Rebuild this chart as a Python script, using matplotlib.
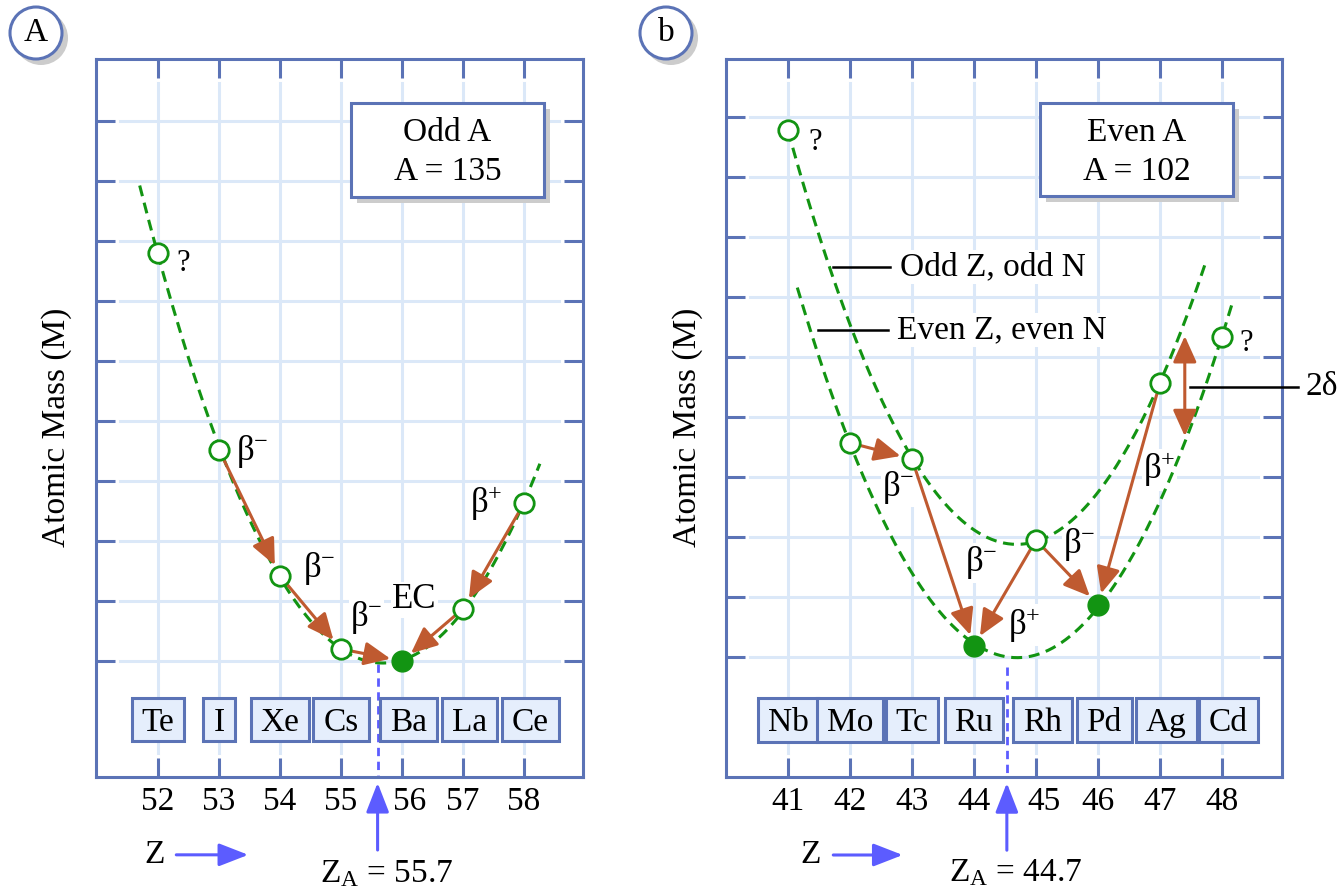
import numpy as np
import matplotlib.pyplot as plt
import matplotlib.transforms as mtransforms
from matplotlib.patches import Rectangle, Ellipse

plt.rcParams['font.family'] = ['Liberation Serif', 'DejaVu Serif']
plt.rcParams['mathtext.fontset'] = 'custom'
plt.rcParams['mathtext.rm'] = 'Liberation Serif'
plt.rcParams['mathtext.it'] = 'Liberation Serif:italic'
plt.rcParams['font.size'] = 24

# ---------------- panel A : odd A = 135 ----------------
odd_Z = [52, 53, 54, 55, 56, 57, 58]
odd_sym = ['Te', 'I', 'Xe', 'Cs', 'Ba', 'La', 'Ce']
odd_M = [6.80, 3.52, 1.42, 0.20, 0.00, 0.87, 2.63]
odd_stable = [56]
odd_range = [51.70, 58.26]
odd_decays = [(53, 54), (54, 55), (55, 56), (57, 56), (58, 57)]
odd_labels = [('β$^{-}$', 53.28, 3.50), ('β$^{-}$', 54.38, 1.55),
              ('β$^{-}$', 55.15, 0.72), ('EC', 55.84, 1.02), ('β$^{+}$', 57.11, 2.62)]
odd_ZA = 55.6
odd_ZA_text = 'Z$_\\mathrm{A}$ = 55.7'

# ---------------- panel b : even A = 102 ----------------
even_Z = [41, 42, 43, 44, 45, 46, 47, 48]
even_sym = ['Nb', 'Mo', 'Tc', 'Ru', 'Rh', 'Pd', 'Ag', 'Cd']
even_M = [8.78, 3.57, 3.30, 0.18, 1.95, 0.87, 4.57, 5.33]
even_stable = [44, 46]
oo_range = [41.00, 47.73]   # odd Z, odd N branch
ee_range = [41.15, 48.16]   # even Z, even N branch
even_decays = [(42, 43), (43, 44), (45, 44), (45, 46), (47, 46)]
even_labels = [('β$^{-}$', 42.52, 2.83), ('β$^{-}$', 43.85, 1.57),
               ('β$^{+}$', 44.55, 0.53), ('β$^{-}$', 45.44, 1.87), ('β$^{+}$', 46.73, 3.12)]
even_ZA = 44.53
even_ZA_text = 'Z$_\\mathrm{A}$ = 44.7'
delta_Z = 47.4
delta_M = [3.68, 5.35]

frame_c = '#5b73b6'
grid_c = '#dbe8f8'
green = '#129412'
arrow_c = '#bf5a30'
blue = '#5c5cff'
box_fill = '#e5eefc'

W, H = 1344, 892
fig = plt.figure(figsize=(W / 100, H / 100), dpi=100)


def make_axes(left, right, top, bottom, xlim, ylim, zticks, za):
    ax = fig.add_axes([left / W, 1 - bottom / H, (right - left) / W, (bottom - top) / H])
    ax.set_xlim(xlim)
    ax.set_ylim(ylim)
    ax.set_xticks(zticks)
    ax.set_yticks(range(10))
    ax.tick_params(direction='in', length=13.5, width=2.2, color=frame_c, top=True, right=True,
                   labelleft=False, labelsize=24, pad=7)
    for s in ax.spines.values():
        s.set_color(frame_c)
        s.set_linewidth(2.2)
    # nudge the tick label just right of Z_A away from the arrow
    for z, lab in zip(zticks, ax.get_xticklabels()):
        if za < z < za + 1:
            lab.set_transform(lab.get_transform() +
                              mtransforms.ScaledTranslation(8 / 100, 0, fig.dpi_scale_trans))
    fx, fy = 24 / (right - left), 24 / (bottom - top)
    for z in zticks:
        ax.plot([z, z], [fy, 1 - fy], transform=ax.get_xaxis_transform(), color=grid_c, lw=2.2, zorder=0.5)
    for m in range(10):
        ax.plot([fx, 1 - fx], [m, m], transform=ax.get_yaxis_transform(), color=grid_c, lw=2.2, zorder=0.5)
    return ax


ax1 = make_axes(96, 583, 59, 777, (50.984, 58.967), (-1.933, 10.033), odd_Z, odd_ZA)
ax2 = make_axes(726, 1282, 59, 777, (40.0, 48.968), (-2.0, 9.967), even_Z, even_ZA)


def curve(ax, zs, ms, zrange):
    c = np.polyfit(zs, ms, 2)
    zz = np.linspace(zrange[0], zrange[1], 200)
    ax.plot(zz, np.polyval(c, zz), color=green, lw=2.2, ls=(0, (3.6, 2.2)), zorder=3)


def markers(ax, zs, ms, stable):
    for z, m in zip(zs, ms):
        if z in stable:
            ax.plot(z, m, 'o', ms=15, color=green, zorder=5)
        else:
            ax.plot(z, m, 'o', ms=14, mfc='white', mec=green, mew=2, zorder=5)


def decays(ax, zs, ms, pairs):
    mass = dict(zip(zs, ms))
    for a, b in pairs:
        ax.annotate('', xy=(b, mass[b]), xytext=(a, mass[a]),
                    arrowprops=dict(arrowstyle='-|>,head_length=0.8,head_width=0.36', mutation_scale=20,
                                    color=arrow_c, lw=2.2, shrinkA=8, shrinkB=8.5), zorder=4)


def labels(ax, items):
    for txt, x, y in items:
        ax.text(x, y, txt, ha='left', va='center', fontsize=25, zorder=2,
                bbox=dict(fc='white', ec='none', pad=1))


def element_boxes(ax, zs, syms, za, y_mid, px_per_z):
    r = fig.canvas.get_renderer()
    for z, s in zip(zs, syms):
        x = z + 0.1 if z > za else z
        t = ax.text(x, y_mid - 0.19, s, ha='center', va='baseline', fontsize=24, zorder=7)
        w = t.get_window_extent(renderer=r).width
        bw = (w + 20) / px_per_z
        ax.add_patch(Rectangle((x - bw / 2, y_mid - 0.36), bw, 0.72, fc=box_fill, ec=frame_c,
                               lw=2.2, zorder=6))


def info_box(ax, left, right, top, bottom, axl, axr, line1, line2):
    aw, ah = axr - axl, 777 - 59
    x0, x1 = (left - axl) / aw, (right - axl) / aw
    y0, y1 = (777 - bottom) / ah, (777 - top) / ah
    sx, sy = 6 / aw, 6 / ah
    ax.add_patch(Rectangle((x0 + sx, y0 - sy), x1 - x0, y1 - y0, transform=ax.transAxes,
                           fc='#cccccc', ec='none', zorder=5.5))
    ax.add_patch(Rectangle((x0, y0), x1 - x0, y1 - y0, transform=ax.transAxes,
                           fc='white', ec=frame_c, lw=2.2, zorder=6))
    xm = (x0 + x1) / 2
    ax.text(xm, (777 - 133) / ah, line1, transform=ax.transAxes, ha='center', va='center', fontsize=24, zorder=7)
    ax.text(xm, (777 - 172) / ah, line2, transform=ax.transAxes, ha='center', va='center', fontsize=24, zorder=7)


def za_marker(ax, za, y_start, ytip, ytail, txt, txt_x, txt_y):
    ax.plot([za, za], [y_start, ax.get_ylim()[0]], color=blue, lw=2, ls=(0, (3, 2)), zorder=1)
    ax.annotate('', xy=(za, ytip), xytext=(za, ytail), annotation_clip=False,
                arrowprops=dict(arrowstyle='-|>,head_length=0.9,head_width=0.35', mutation_scale=20,
                                color=blue, lw=2.2, shrinkA=0, shrinkB=0))
    ax.text(txt_x, txt_y, txt, ha='center', va='center', fontsize=24, clip_on=False)


def z_arrow(ax, zx, y, x0, x1):
    ax.text(zx, y, 'Z', ha='center', va='center', fontsize=24, clip_on=False)
    ax.annotate('', xy=(x1, y), xytext=(x0, y), annotation_clip=False,
                arrowprops=dict(arrowstyle='-|>,head_length=0.9,head_width=0.35', mutation_scale=20,
                                color=blue, lw=2.2, shrinkA=0, shrinkB=0))


# panel A
curve(ax1, odd_Z, odd_M, odd_range)
markers(ax1, odd_Z, odd_M, odd_stable)
decays(ax1, odd_Z, odd_M, odd_decays)
labels(ax1, odd_labels)
ax1.text(52.41, 6.62, '?', ha='center', va='center', fontsize=22, zorder=2)
element_boxes(ax1, odd_Z, odd_sym, odd_ZA, -0.98, 61)
info_box(ax1, 351, 544, 103, 197, 96, 583, 'Odd A', 'A = 135')
za_marker(ax1, odd_ZA, -0.05, -2.03, -3.15, odd_ZA_text, 55.75, -3.55)
z_arrow(ax1, 51.95, -3.23, 52.30, 53.48)

# panel b
oo = [(z, m) for z, m in zip(even_Z, even_M) if z % 2 == 1]
ee = [(z, m) for z, m in zip(even_Z, even_M) if z % 2 == 0]
curve(ax2, [p[0] for p in oo], [p[1] for p in oo], oo_range)
curve(ax2, [p[0] for p in ee], [p[1] for p in ee], ee_range)
markers(ax2, even_Z, even_M, even_stable)
decays(ax2, even_Z, even_M, even_decays)
labels(ax2, even_labels)
ax2.text(41.44, 8.57, '?', ha='center', va='center', fontsize=22, zorder=2)
ax2.text(48.39, 5.23, '?', ha='center', va='center', fontsize=22, zorder=2)
ax2.plot([41.73, 42.65], [6.5, 6.5], color='black', lw=1.8, zorder=2)
ax2.text(42.81, 6.5, 'Odd Z, odd N', ha='left', va='center', fontsize=24, zorder=2,
         bbox=dict(fc='white', ec='none', pad=1))
ax2.plot([41.48, 42.61], [5.45, 5.45], color='black', lw=1.8, zorder=2)
ax2.text(42.76, 5.45, 'Even Z, even N', ha='left', va='center', fontsize=24, zorder=2,
         bbox=dict(fc='white', ec='none', pad=1))
ax2.annotate('', xy=(delta_Z, delta_M[1]), xytext=(delta_Z, delta_M[0]),
             arrowprops=dict(arrowstyle='<|-|>,head_length=0.8,head_width=0.36', mutation_scale=20,
                             color=arrow_c, lw=2.2, shrinkA=0, shrinkB=0), zorder=4)
ax2.plot([47.48, 49.23], [4.5, 4.5], color='black', lw=1.8, zorder=4, clip_on=False)
ax2.text(49.34, 4.5, '2δ', ha='left', va='center', fontsize=24, clip_on=False)
element_boxes(ax2, even_Z, even_sym, even_ZA, -1.05, 62)
info_box(ax2, 1040, 1233, 103, 196, 726, 1282, 'Even A', 'A = 102')
za_marker(ax2, even_ZA, -0.17, -2.1, -3.22, even_ZA_text, 44.68, -3.6)
z_arrow(ax2, 41.37, -3.3, 41.73, 42.85)

# y labels
for xp in (57, 688):
    fig.text(xp / W, 1 - 427 / H, 'Atomic Mass (M)', rotation=90, ha='center', va='center', fontsize=24)

# panel letters
for cx, letter in ((36, 'A'), (666, 'b')):
    fig.add_artist(Ellipse(((cx + 5) / W, 1 - (33 + 5) / H), 54 / W, 54 / H, transform=fig.transFigure,
                           fc='#cccccc', ec='none'))
    fig.add_artist(Ellipse((cx / W, 1 - 33 / H), 52 / W, 52 / H, transform=fig.transFigure,
                           fc='white', ec=frame_c, lw=2.2))
    fig.text(cx / W, 1 - 33 / H, letter, ha='center', va='center', fontsize=24)

fig.savefig('out.png', dpi=100)
